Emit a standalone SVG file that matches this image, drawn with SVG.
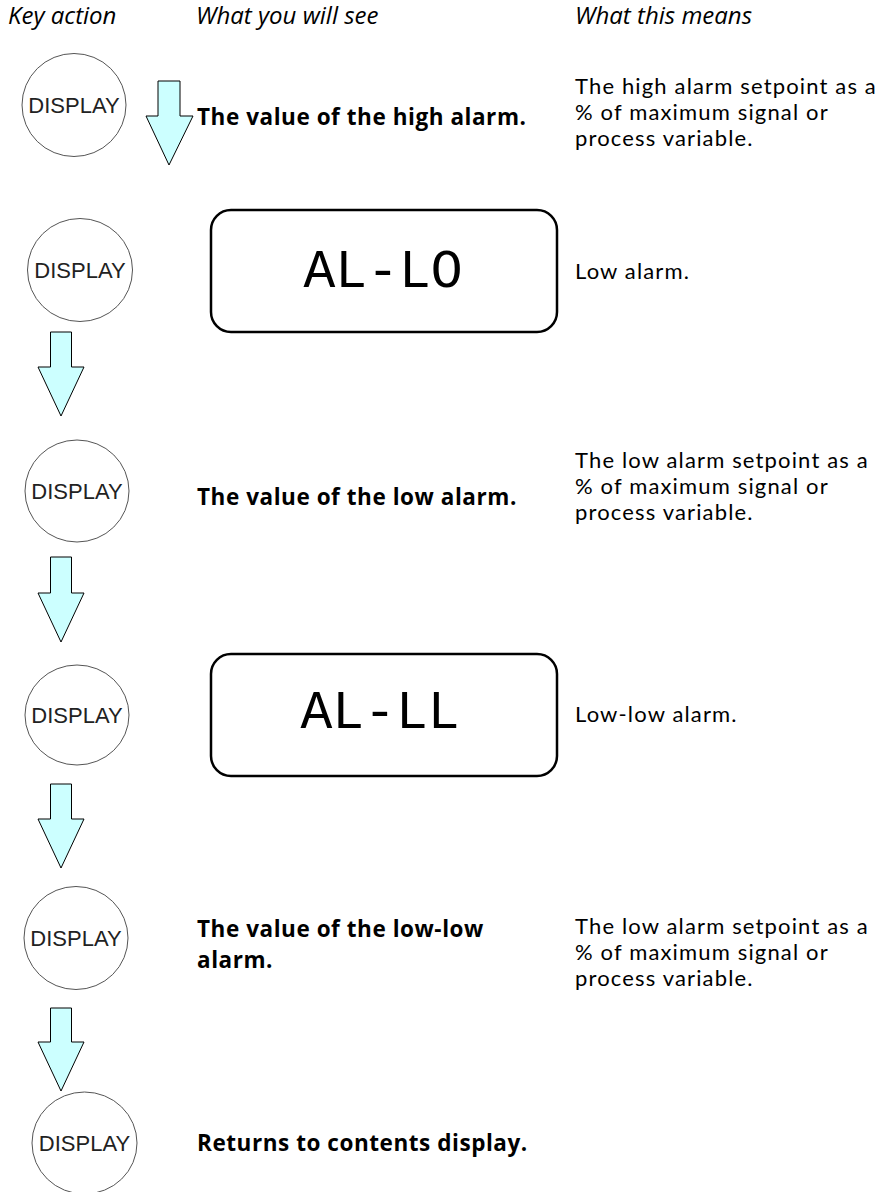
<svg xmlns="http://www.w3.org/2000/svg" width="891" height="1192" viewBox="0 0 891 1192">
<style>
.key{fill:#fff;stroke:#555;stroke-width:1}
.kt{font-family:"Liberation Sans",Arial,sans-serif;font-size:22px;fill:#222;text-anchor:middle}
.hdr{font-family:"Open Sans",sans-serif;font-style:italic;font-size:24px;fill:#000}
.b{font-family:"Open Sans",sans-serif;font-weight:bold;font-size:22.5px;letter-spacing:0.55px;fill:#000}
.t{font-family:Lato,"Open Sans",sans-serif;font-size:22px;letter-spacing:1.15px;fill:#000}
.box{fill:#fff;stroke:#000;stroke-width:2.5}
.lcd{font-family:"Liberation Mono","Courier New",monospace;font-size:53px;fill:#000;text-anchor:middle}
.arr{fill:#ccffff;stroke:#000;stroke-width:1;stroke-linejoin:miter}
</style>
<rect width="891" height="1192" fill="#fff"/>
<g id="headers">
<text class="hdr" x="8" y="24">Key action</text>
<text class="hdr" x="196" y="24">What you will see</text>
<text class="hdr" x="575" y="24">What this means</text>
</g>
<g id="connectors">
<path class="arr" d="M158,81 H180 V116 H193 L169,165 L146,116 H158 Z"/>
<path class="arr" d="M50.5,332 H71.5 V367 H84 L61,416 L38,367 H50.5 Z"/>
<path class="arr" d="M50.5,557 H71.5 V593 H84 L61,642 L38,593 H50.5 Z"/>
<path class="arr" d="M50.5,784 H71.5 V819 H84 L61,868 L38,819 H50.5 Z"/>
<path class="arr" d="M50.5,1008 H71.5 V1042 H84 L61,1091 L38,1042 H50.5 Z"/>
</g>
<g id="key1"><ellipse class="key" cx="74" cy="105" rx="52" ry="51.5"/><text class="kt" x="74" y="113">DISPLAY</text></g>
<g id="key2"><ellipse class="key" cx="80" cy="270" rx="52.5" ry="51.5"/><text class="kt" x="80" y="278">DISPLAY</text></g>
<g id="key3"><ellipse class="key" cx="77" cy="491" rx="52" ry="51"/><text class="kt" x="77" y="499">DISPLAY</text></g>
<g id="key4"><ellipse class="key" cx="77" cy="715" rx="52" ry="50"/><text class="kt" x="77" y="723">DISPLAY</text></g>
<g id="key5"><ellipse class="key" cx="76" cy="938" rx="52" ry="51.5"/><text class="kt" x="76" y="946">DISPLAY</text></g>
<g id="key6"><ellipse class="key" cx="84.5" cy="1143" rx="52.5" ry="51"/><text class="kt" x="84.5" y="1151">DISPLAY</text></g>
<g id="row1">
<text class="b" x="197" y="125">The value of the high alarm.</text>
<text class="t" x="575" y="94">The high alarm setpoint as a</text>
<text class="t" x="575" y="120">% of maximum signal or</text>
<text class="t" x="575" y="146">process variable.</text>
</g>
<g id="display-allo">
<rect class="box" x="211" y="210" width="346" height="122" rx="20" ry="20"/>
<text class="lcd" x="383" y="287">AL-LO</text>
<text class="t" x="575" y="279">Low alarm.</text>
</g>
<g id="row3">
<text class="b" x="197" y="505">The value of the low alarm.</text>
<text class="t" x="575" y="468">The low alarm setpoint as a</text>
<text class="t" x="575" y="494">% of maximum signal or</text>
<text class="t" x="575" y="520">process variable.</text>
</g>
<g id="display-alll">
<rect class="box" x="211" y="654" width="346" height="122" rx="20" ry="20"/>
<text class="lcd" x="380" y="728">AL-LL</text>
<text class="t" x="575" y="722">Low-low alarm.</text>
</g>
<g id="row5">
<text class="b" x="197" y="937">The value of the low-low</text>
<text class="b" x="197" y="968">alarm.</text>
<text class="t" x="575" y="934">The low alarm setpoint as a</text>
<text class="t" x="575" y="960">% of maximum signal or</text>
<text class="t" x="575" y="986">process variable.</text>
</g>
<g id="row6">
<text class="b" x="197" y="1151">Returns to contents display.</text>
</g>
</svg>
